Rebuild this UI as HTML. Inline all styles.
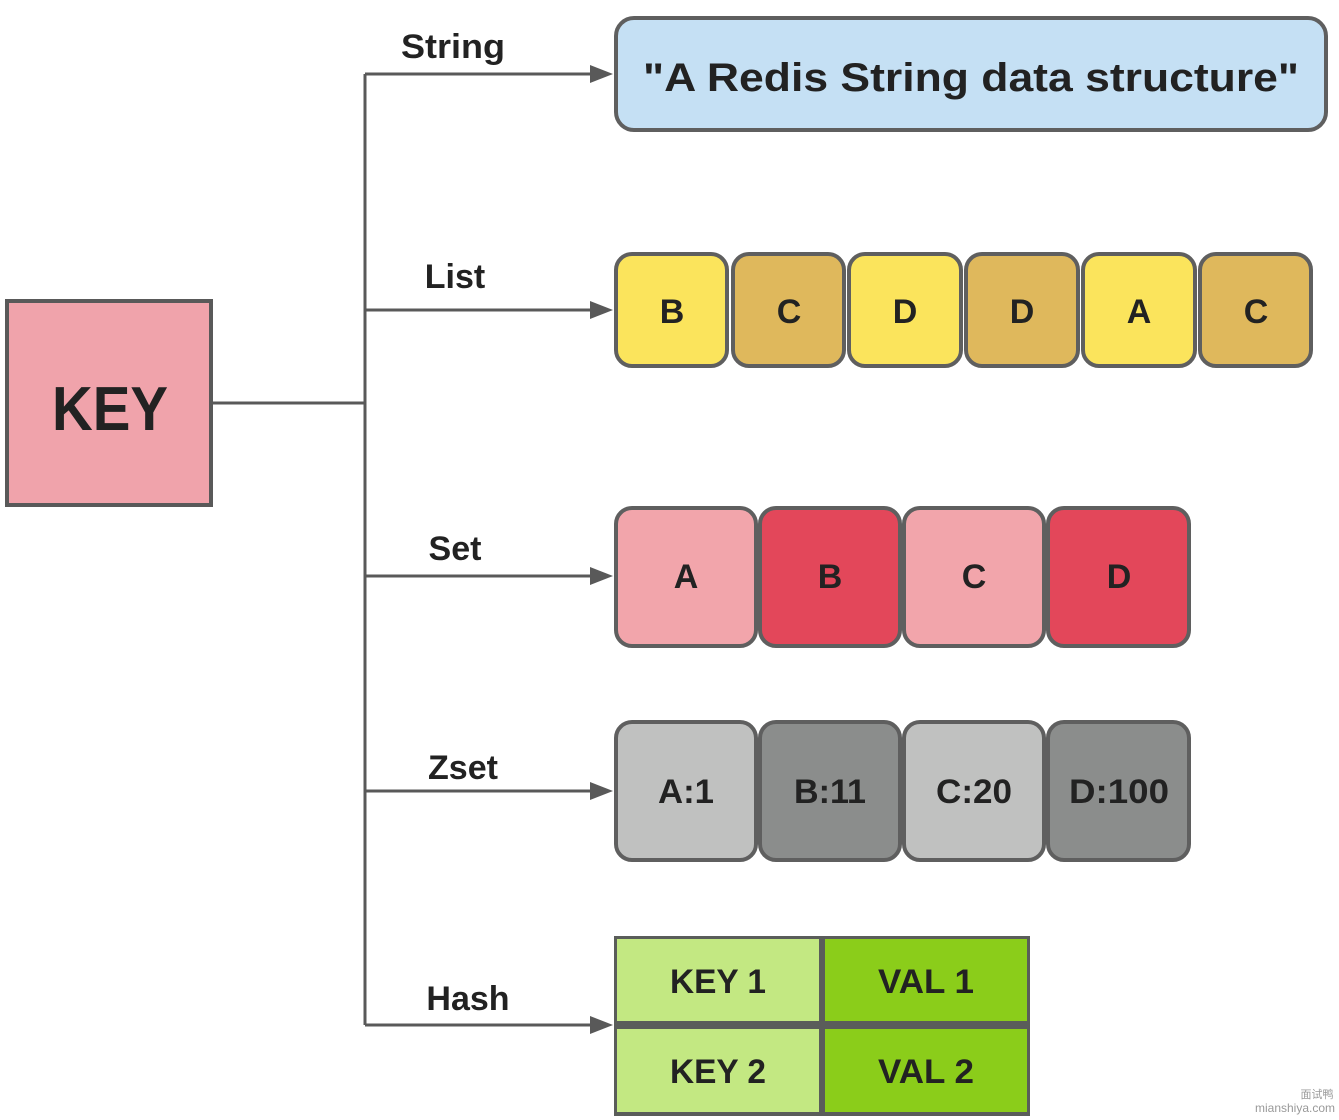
<!DOCTYPE html>
<html><head><meta charset="utf-8"><style>
html,body{margin:0;padding:0;background:#fff;}
svg{display:block;}
text{font-family:"Liberation Sans",sans-serif;font-weight:bold;fill:#222;text-anchor:middle;}
</style></head><body>
<svg width="1339" height="1120" viewBox="0 0 1339 1120" xmlns="http://www.w3.org/2000/svg">
<defs><marker id="a" markerWidth="10" markerHeight="10" refX="9" refY="5" orient="auto" markerUnits="userSpaceOnUse"><path d="M0,0 L0,0"/></marker></defs>
<g stroke="#595959" stroke-width="3" fill="none">
<rect x="7" y="301" width="204" height="204" fill="#f0a3ab" stroke-width="4"/>
<line x1="211" y1="403" x2="365" y2="403"/>
<line x1="365" y1="74" x2="365" y2="1025"/>
<line x1="365" y1="74" x2="594" y2="74"/>
<line x1="365" y1="310" x2="594" y2="310"/>
<line x1="365" y1="576" x2="594" y2="576"/>
<line x1="365" y1="791" x2="594" y2="791"/>
<line x1="365" y1="1025" x2="594" y2="1025"/>
</g>
<g fill="#595959">
<polygon points="590,65 613,74 590,83"/>
<polygon points="590,301 613,310 590,319"/>
<polygon points="590,567 613,576 590,585"/>
<polygon points="590,782 613,791 590,800"/>
<polygon points="590,1016 613,1025 590,1034"/>
</g>
<text x="110" y="430" font-size="62" textLength="116" lengthAdjust="spacingAndGlyphs">KEY</text>
<g font-size="34">
<text x="453" y="58" textLength="104" lengthAdjust="spacingAndGlyphs">String</text>
<text x="455" y="288">List</text>
<text x="455" y="560">Set</text>
<text x="463" y="779">Zset</text>
<text x="468" y="1010">Hash</text>
</g>
<g stroke="#5f5f5f" stroke-width="4">
<rect x="616" y="18" width="710" height="112" rx="18" fill="#c5e0f4"/>
<rect x="616" y="254" width="111" height="112" rx="16" fill="#fbe45c"/>
<rect x="733" y="254" width="111" height="112" rx="16" fill="#dfb85c"/>
<rect x="849" y="254" width="112" height="112" rx="16" fill="#fbe45c"/>
<rect x="966" y="254" width="112" height="112" rx="16" fill="#dfb85c"/>
<rect x="1083" y="254" width="112" height="112" rx="16" fill="#fbe45c"/>
<rect x="1200" y="254" width="111" height="112" rx="16" fill="#dfb85c"/>
<rect x="616" y="508" width="140" height="138" rx="16" fill="#f2a5ab"/>
<rect x="760" y="508" width="140" height="138" rx="16" fill="#e3475a"/>
<rect x="904" y="508" width="140" height="138" rx="16" fill="#f2a5ab"/>
<rect x="1048" y="508" width="141" height="138" rx="16" fill="#e3475a"/>
<rect x="616" y="722" width="140" height="138" rx="16" fill="#c0c1c0"/>
<rect x="760" y="722" width="140" height="138" rx="16" fill="#8b8d8c"/>
<rect x="904" y="722" width="140" height="138" rx="16" fill="#c0c1c0"/>
<rect x="1048" y="722" width="141" height="138" rx="16" fill="#8b8d8c"/>
</g>
<rect x="614" y="936" width="416" height="180" fill="#5a5d5a"/>
<rect x="617" y="939" width="202" height="82" fill="#c3e882"/>
<rect x="825" y="939" width="202" height="82" fill="#8bcd1a"/>
<rect x="617" y="1029" width="202" height="83" fill="#c3e882"/>
<rect x="825" y="1029" width="202" height="83" fill="#8bcd1a"/>
<text x="971" y="91" font-size="40" textLength="656" lengthAdjust="spacingAndGlyphs">"A Redis String data structure"</text>
<g font-size="34">
<text x="672" y="323">B</text><text x="789" y="323">C</text><text x="905" y="323">D</text>
<text x="1022" y="323">D</text><text x="1139" y="323">A</text><text x="1256" y="323">C</text>
<text x="686" y="588">A</text><text x="830" y="588">B</text><text x="974" y="588">C</text><text x="1119" y="588">D</text>
<text x="686" y="803" textLength="56" lengthAdjust="spacingAndGlyphs">A:1</text>
<text x="830" y="803" textLength="72" lengthAdjust="spacingAndGlyphs">B:11</text>
<text x="974" y="803" textLength="76" lengthAdjust="spacingAndGlyphs">C:20</text>
<text x="1119" y="803" textLength="100" lengthAdjust="spacingAndGlyphs">D:100</text>
<text x="718" y="993" textLength="96" lengthAdjust="spacingAndGlyphs">KEY 1</text>
<text x="926" y="993" textLength="96" lengthAdjust="spacingAndGlyphs">VAL 1</text>
<text x="718" y="1083" textLength="96" lengthAdjust="spacingAndGlyphs">KEY 2</text>
<text x="926" y="1083" textLength="96" lengthAdjust="spacingAndGlyphs">VAL 2</text>
</g>
<text x="1317" y="1098" font-size="11" style="font-weight:normal;fill:#999;font-family:'Liberation Sans','Noto Sans CJK SC',sans-serif">面试鸭</text>
<text x="1295" y="1112" font-size="12" style="font-weight:normal;fill:#999">mianshiya.com</text>
</svg>
</body></html>
